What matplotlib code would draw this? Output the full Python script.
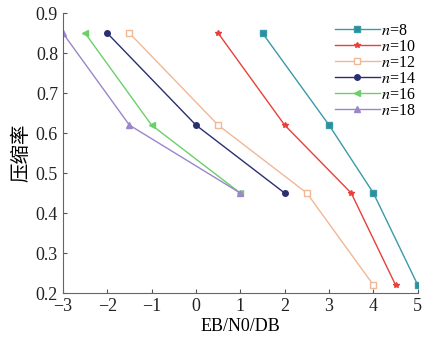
import matplotlib
matplotlib.use("Agg")
import matplotlib.pyplot as plt

plt.rcParams['font.family'] = ['Liberation Serif', 'Noto Sans CJK SC']
plt.rcParams['mathtext.fontset'] = 'stix'

labels = ['$n$=8', '$n$=10', '$n$=12', '$n$=14', '$n$=16', '$n$=18']
x_n8 = [1.5, 3, 4, 5]
x_n10 = [0.5, 2, 3.5, 4.5]
x_n12 = [-1.5, 0.5, 2.5, 4]
x_n14 = [-2, 0, 2]
x_n16 = [-2.5, -1, 1]
x_n18 = [-3, -1.5, 1]
y4 = [0.85, 0.62, 0.45, 0.22]
y3 = [0.85, 0.62, 0.45]

series = [x_n8, x_n10, x_n12, x_n14, x_n16, x_n18]
ys = [y4, y4, y4, y3, y3, y3]
colors = ['#3a9aa8', '#e8403a', '#f0b896', '#2a2f70', '#6ccf6a', '#9b86c8']
markers = ['s', '*', 's', 'o', '<', '^']
mfcs = ['#2a8f9a', '#e8403a', 'white', '#2a2f70', '#6ccf6a', '#9b86c8']

fig = plt.figure(figsize=(4.22, 3.46), dpi=100)
ax = fig.add_axes([0.149, 0.153, 0.841, 0.809])
for xs, yv, c, m, mf, lab in zip(series, ys, colors, markers, mfcs, labels):
    ax.plot(xs, yv, color=c, marker=m, markersize=4, markerfacecolor=mf,
            markeredgecolor=c, linewidth=1.0, label=lab)

ax.set_xlim(-3, 5)
ax.set_ylim(0.2, 0.9)
ax.set_xticks(range(-3, 6))
ax.set_xticklabels(['\u22123', '\u22122', '\u22121', '0', '1', '2', '3', '4', '5'])
ax.set_yticks([0.2, 0.3, 0.4, 0.5, 0.6, 0.7, 0.8, 0.9])
ax.tick_params(direction='in', labelsize=13, length=3, colors='#555555', labelcolor='#222222')
ax.spines['top'].set_visible(False)
ax.spines['right'].set_visible(False)
ax.spines['left'].set_color('#666666')
ax.spines['bottom'].set_color('#666666')
ax.set_xlabel('EB/N0/DB', fontsize=13, labelpad=2)
ax.set_ylabel('压缩率', fontsize=14, family=['Noto Sans CJK SC'], labelpad=3)
ax.legend(loc='upper right', bbox_to_anchor=(1.02, 1.0), frameon=False, fontsize=11.5,
          handlelength=2.8, handletextpad=0.05, labelspacing=0.0, borderpad=0.1)
fig.savefig('out.png', dpi=100)
